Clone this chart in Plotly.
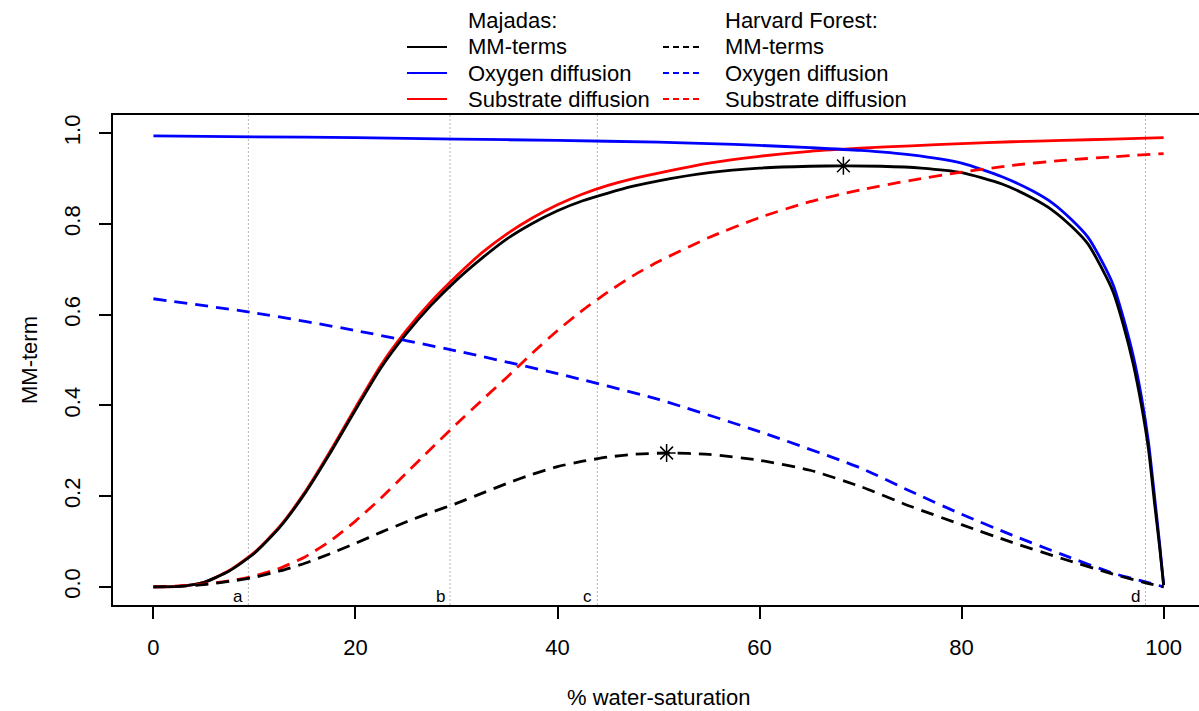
import plotly.graph_objects as go

# ---------------- data ----------------
# Majadas
maj_mm_x = [0, 2.5, 5, 7.5, 10, 12.5, 15, 17.5, 20, 22.5, 25, 27.5, 30, 32.5, 35, 37.5, 40,
            42.5, 45, 47.5, 50, 55, 60, 65, 68.3, 72, 76, 80, 84, 87, 89, 91, 92.5, 94, 95,
            96, 97, 97.8, 98.5, 99.1, 99.6, 100]
maj_mm_y = [0, 0.001, 0.010, 0.035, 0.074, 0.131, 0.206, 0.295, 0.390, 0.482, 0.557, 0.621,
            0.676, 0.724, 0.767, 0.801, 0.829, 0.851, 0.868, 0.883, 0.895, 0.913, 0.923, 0.927,
            0.928, 0.927, 0.923, 0.913, 0.888, 0.857, 0.830, 0.792, 0.756, 0.697, 0.650, 0.578,
            0.490, 0.400, 0.303, 0.184, 0.088, 0.004]

maj_o2_x = [0, 10, 20, 30, 40, 50, 55, 60, 65, 70, 75, 80, 84, 87, 89, 91, 92.5, 94, 95, 96,
            97, 97.8, 98.5, 99.1, 99.6, 100]
maj_o2_y = [0.994, 0.992, 0.990, 0.987, 0.984, 0.980, 0.977, 0.973, 0.968, 0.962, 0.952, 0.934,
            0.904, 0.873, 0.846, 0.807, 0.771, 0.713, 0.666, 0.594, 0.508, 0.419, 0.319, 0.199,
            0.095, 0.004]

maj_sub_x = [0, 2.5, 5, 7.5, 10, 12.5, 15, 17.5, 20, 22.5, 25, 27.5, 30, 32.5, 35, 37.5, 40,
             42.5, 45, 47.5, 50, 55, 60, 65, 70, 75, 80, 85, 90, 95, 100]
maj_sub_y = [0, 0.001, 0.010, 0.036, 0.076, 0.133, 0.209, 0.299, 0.395, 0.488, 0.564, 0.629,
             0.685, 0.736, 0.778, 0.813, 0.842, 0.866, 0.885, 0.900, 0.912, 0.934, 0.949, 0.960,
             0.967, 0.972, 0.977, 0.981, 0.984, 0.987, 0.990]

# Harvard Forest
hf_mm_x = [0, 2.5, 5, 7.5, 10, 12.5, 15, 17.5, 20, 22.5, 25, 27.5, 30, 32.5, 35, 37.5, 40, 42.5,
           45, 47.5, 50.8, 55, 60, 65, 70, 75, 80, 85, 90, 95, 98.2, 100]
hf_mm_y = [0, 0.001, 0.005, 0.012, 0.021, 0.035, 0.052, 0.073, 0.096, 0.120, 0.143, 0.164, 0.184,
           0.206, 0.228, 0.248, 0.265, 0.277, 0.286, 0.292, 0.295, 0.292, 0.279, 0.257, 0.221,
           0.177, 0.137, 0.098, 0.062, 0.028, 0.009, 0.0]

hf_o2_x = [0, 10, 20, 30, 40, 50, 60, 70, 75, 80, 85, 90, 95, 98.2, 100]
hf_o2_y = [0.635, 0.604, 0.565, 0.520, 0.470, 0.413, 0.342, 0.262, 0.210, 0.160, 0.114, 0.071,
           0.030, 0.011, 0.0]

hf_sub_x = [0, 2.5, 5, 7.5, 10, 12.5, 15, 17.5, 20, 22.5, 25, 27.5, 30, 32.5, 35, 37.5, 40, 42.5,
            45, 47.5, 50, 55, 60, 65, 70, 75, 80, 85, 90, 95, 100]
hf_sub_y = [0, 0.002, 0.006, 0.013, 0.024, 0.041, 0.066, 0.101, 0.145, 0.195, 0.250, 0.305, 0.359,
            0.411, 0.462, 0.515, 0.565, 0.610, 0.650, 0.686, 0.717, 0.770, 0.814, 0.849, 0.875,
            0.896, 0.914, 0.929, 0.940, 0.948, 0.955]

# optima (stars)
opt_x = [68.3, 50.8]
opt_y = [0.928, 0.295]

# reference water-saturation markers
vline_x = [9.4, 29.36, 43.94, 98.2]
vline_labels = ["a", "b", "c", "d"]

x_ticks = [0, 20, 40, 60, 80, 100]
y_ticks = [0.0, 0.2, 0.4, 0.6, 0.8, 1.0]

legend_headers = ["Majadas:", "Harvard Forest:"]
legend_items = ["MM-terms", "Oxygen diffusion", "Substrate diffusion"]
legend_colors = ["black", "blue", "red"]

# ---------------- figure ----------------
FONT = "Liberation Sans, Arial, Helvetica, sans-serif"
FS = 22
W, H = 1199, 711
ML, MR, MT, MB = 113, 0, 115, 106
PW, PH = W - ML - MR, H - MT - MB

def px2paper_x(px):
    return (px - ML) / PW

def px2paper_y(py):
    return (H - MB - py) / PH

DASH = "13px,8px"
LW = 2.8

fig = go.Figure()
series = [
    (maj_sub_x, maj_sub_y, "red", "solid", "Majadas substrate diffusion"),
    (maj_o2_x, maj_o2_y, "blue", "solid", "Majadas oxygen diffusion"),
    (maj_mm_x, maj_mm_y, "black", "solid", "Majadas MM-terms"),
    (hf_sub_x, hf_sub_y, "red", DASH, "Harvard Forest substrate diffusion"),
    (hf_o2_x, hf_o2_y, "blue", DASH, "Harvard Forest oxygen diffusion"),
    (hf_mm_x, hf_mm_y, "black", DASH, "Harvard Forest MM-terms"),
]
for xs, ys, col, dash, name in series:
    fig.add_trace(go.Scatter(
        x=xs, y=ys, mode="lines", name=name, showlegend=False,
        line=dict(color=col, width=LW, dash=dash, shape="spline", smoothing=0.6),
    ))

fig.add_trace(go.Scatter(
    x=opt_x, y=opt_y, mode="markers", showlegend=False, name="optimum",
    marker=dict(symbol="asterisk-open", size=15, color="black",
                line=dict(color="black", width=1.5)),
))

shapes = []
annotations = []
for vx, lab in zip(vline_x, vline_labels):
    shapes.append(dict(type="line", xref="x", yref="paper", x0=vx, x1=vx, y0=0, y1=1,
                       line=dict(color="#b4b4b4", width=1, dash="2px,2px"), layer="below"))
    annotations.append(dict(x=vx, y=-0.022, xref="x", yref="y", text=lab, showarrow=False,
                            xanchor="right", yanchor="middle", xshift=-3,
                            font=dict(family=FONT, size=17, color="black")))

# axis titles
annotations.append(dict(x=50, y=px2paper_y(697), xref="x", yref="paper",
                        text="% water-saturation", showarrow=False,
                        xanchor="center", yanchor="middle",
                        font=dict(family=FONT, size=FS, color="black")))
annotations.append(dict(x=px2paper_x(29), y=0.5, xref="paper", yref="paper",
                        text="MM-term", showarrow=False, textangle=-90,
                        xanchor="center", yanchor="middle",
                        font=dict(family=FONT, size=FS, color="black")))

# manual legend (two columns, R style)
col_line_x = [(407, 447), (663, 702)]
col_text_x = [466, 723]
row_y = [21, 47, 73, 99]
for c in range(2):
    annotations.append(dict(x=px2paper_x(col_text_x[c]), y=px2paper_y(row_y[0]),
                            xref="paper", yref="paper", text=legend_headers[c],
                            showarrow=False, xanchor="left", yanchor="middle",
                            font=dict(family=FONT, size=FS, color="black")))
    for r in range(3):
        yy = px2paper_y(row_y[r + 1])
        shapes.append(dict(type="line", xref="paper", yref="paper",
                           x0=px2paper_x(col_line_x[c][0]), x1=px2paper_x(col_line_x[c][1]),
                           y0=yy, y1=yy,
                           line=dict(color=legend_colors[r], width=1.8,
                                     dash="solid" if c == 0 else "6px,4px")))
        annotations.append(dict(x=px2paper_x(col_text_x[c]), y=yy,
                                xref="paper", yref="paper", text=legend_items[r],
                                showarrow=False, xanchor="left", yanchor="middle",
                                font=dict(family=FONT, size=FS, color="black")))

fig.update_layout(
    width=W, height=H,
    margin=dict(l=ML, r=MR, t=MT, b=MB, pad=0),
    paper_bgcolor="white", plot_bgcolor="white",
    font=dict(family=FONT, size=FS, color="black"),
    shapes=shapes, annotations=annotations,
    xaxis=dict(range=[-4, 103.5], tickvals=x_ticks, ticktext=[str(v) for v in x_ticks],
               showgrid=False, zeroline=False, showline=True, linecolor="black",
               linewidth=1.5, mirror=True, ticks="outside", ticklen=12, tickwidth=1.5,
               tickcolor="black", ticklabelstandoff=10,
               tickfont=dict(family=FONT, size=FS, color="black")),
    yaxis=dict(range=[-0.04, 1.04], tickvals=y_ticks, ticktext=[f"{v:.1f}" for v in y_ticks],
               showgrid=False, zeroline=False, showline=True, linecolor="black",
               linewidth=1.5, mirror=False, ticks="outside", ticklen=12, tickwidth=1.5,
               tickcolor="black", tickangle=-90, ticklabelstandoff=10,
               tickfont=dict(family=FONT, size=FS, color="black")),
)

fig.write_html("out.html")
